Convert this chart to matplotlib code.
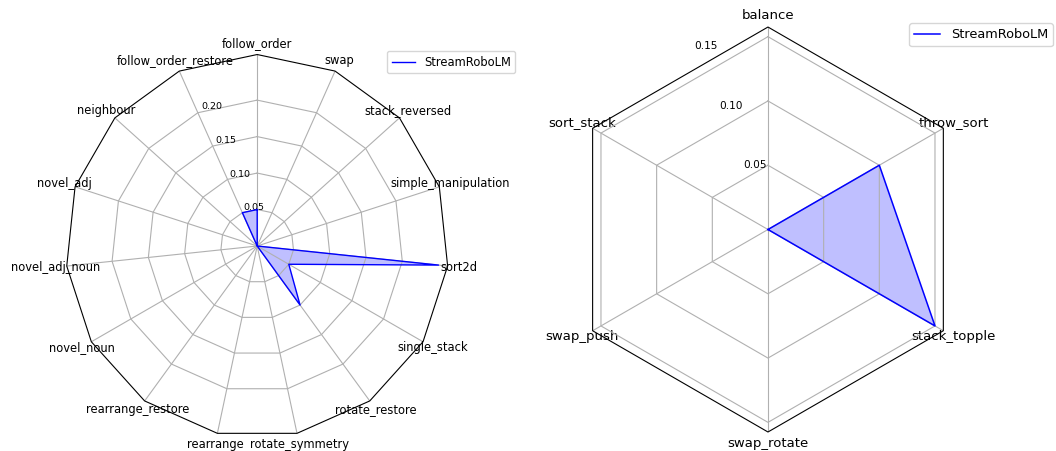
import numpy as np
import matplotlib
matplotlib.use('Agg')
import matplotlib.pyplot as plt
from matplotlib.patches import Circle, RegularPolygon
from matplotlib.path import Path
from matplotlib.projections import register_projection
from matplotlib.projections.polar import PolarAxes
from matplotlib.spines import Spine
from matplotlib.transforms import Affine2D

# tasks, counter-clockwise starting from the top
tasks_a = ['follow_order', 'follow_order_restore', 'neighbour', 'novel_adj',
           'novel_adj_noun', 'novel_noun', 'rearrange_restore', 'rearrange',
           'rotate_symmetry', 'rotate_restore', 'single_stack', 'sort2d',
           'simple_manipulation', 'stack_reversed', 'swap']
scores_a = [0.05, 0.05, 0, 0, 0, 0, 0, 0, 0, 0.10, 0.05, 0.25, 0, 0, 0]
rgrid_a = [0.05, 0.10, 0.15, 0.20]

tasks_b = ['balance', 'sort_stack', 'swap_push', 'swap_rotate',
           'stack_topple', 'throw_sort']
scores_b = [0, 0, 0, 0, 0.15, 0.10]
rgrid_b = [0.05, 0.10, 0.15]

model = 'StreamRoboLM'


def radar_factory(num_vars, frame='polygon', name='radar'):
    theta = np.linspace(0, 2 * np.pi, num_vars, endpoint=False)

    class RadarTransform(PolarAxes.PolarTransform):
        def transform_path_non_affine(self, path):
            # gridlines -> straight segments between spokes
            if path._interpolation_steps > 1:
                path = path.interpolated(num_vars)
            return Path(self.transform(path.vertices), path.codes)

    class RadarAxes(PolarAxes):
        PolarTransform = RadarTransform

        def __init__(self, *args, **kwargs):
            super().__init__(*args, **kwargs)
            self.set_theta_zero_location('N')

        def fill(self, *args, closed=True, **kwargs):
            return super().fill(closed=closed, *args, **kwargs)

        def plot(self, *args, **kwargs):
            lines = super().plot(*args, **kwargs)
            for line in lines:
                x, y = line.get_data()
                if x[0] != x[-1]:
                    line.set_data(np.append(x, x[0]), np.append(y, y[0]))
            return lines

        def set_varlabels(self, labels):
            self.set_thetagrids(np.degrees(theta), labels)

        def _gen_axes_patch(self):
            if frame == 'circle':
                return Circle((0.5, 0.5), 0.5)
            return RegularPolygon((0.5, 0.5), num_vars, radius=.5, edgecolor='k')

        def _gen_axes_spines(self):
            if frame == 'circle':
                return super()._gen_axes_spines()
            spine = Spine(axes=self, spine_type='circle',
                          path=Path.unit_regular_polygon(num_vars))
            spine.set_transform(Affine2D().scale(.5).translate(.5, .5)
                                + self.transAxes)
            return {'polar': spine}

    RadarAxes.name = name
    register_projection(RadarAxes)
    return theta


theta_a = radar_factory(len(tasks_a), name='radar_a')
theta_b = radar_factory(len(tasks_b), name='radar_b')

fig = plt.figure(figsize=(10.56, 4.51), dpi=100)
ax1 = fig.add_axes([0.0622, 0.0299, 0.3627, 0.8492], projection='radar_a')
ax2 = fig.add_axes([0.5355, 0.0421, 0.3835, 0.898], projection='radar_b')

ax1.plot(theta_a, scores_a, color='blue', linewidth=1, label=model)
ax1.fill(theta_a, scores_a, facecolor='blue', alpha=0.25, label='_nolegend_')
ax1.set_varlabels(tasks_a)
ax1.set_rgrids(rgrid_a, fontsize=6.8)
ax1.set_ylim(0, max(scores_a) * 1.05)
ax1.tick_params(axis='x', labelsize=8.3, pad=-2.5)
ax1.legend(loc='upper left', bbox_to_anchor=(0.839, 1.009), borderaxespad=0,
           fontsize=8.3)

ax2.plot(theta_b, scores_b, color='blue', linewidth=1.1, label=model)
ax2.fill(theta_b, scores_b, facecolor='blue', alpha=0.25, label='_nolegend_')
ax2.set_varlabels(tasks_b)
ax2.set_rgrids(rgrid_b, fontsize=7.6)
ax2.set_ylim(0, max(scores_b) * 1.05)
ax2.tick_params(axis='x', labelsize=9.5, pad=-2)
ax2.legend(loc='upper left', bbox_to_anchor=(0.849, 1.01), borderaxespad=0,
           fontsize=9.3)

plt.savefig('out.png', dpi=100)
